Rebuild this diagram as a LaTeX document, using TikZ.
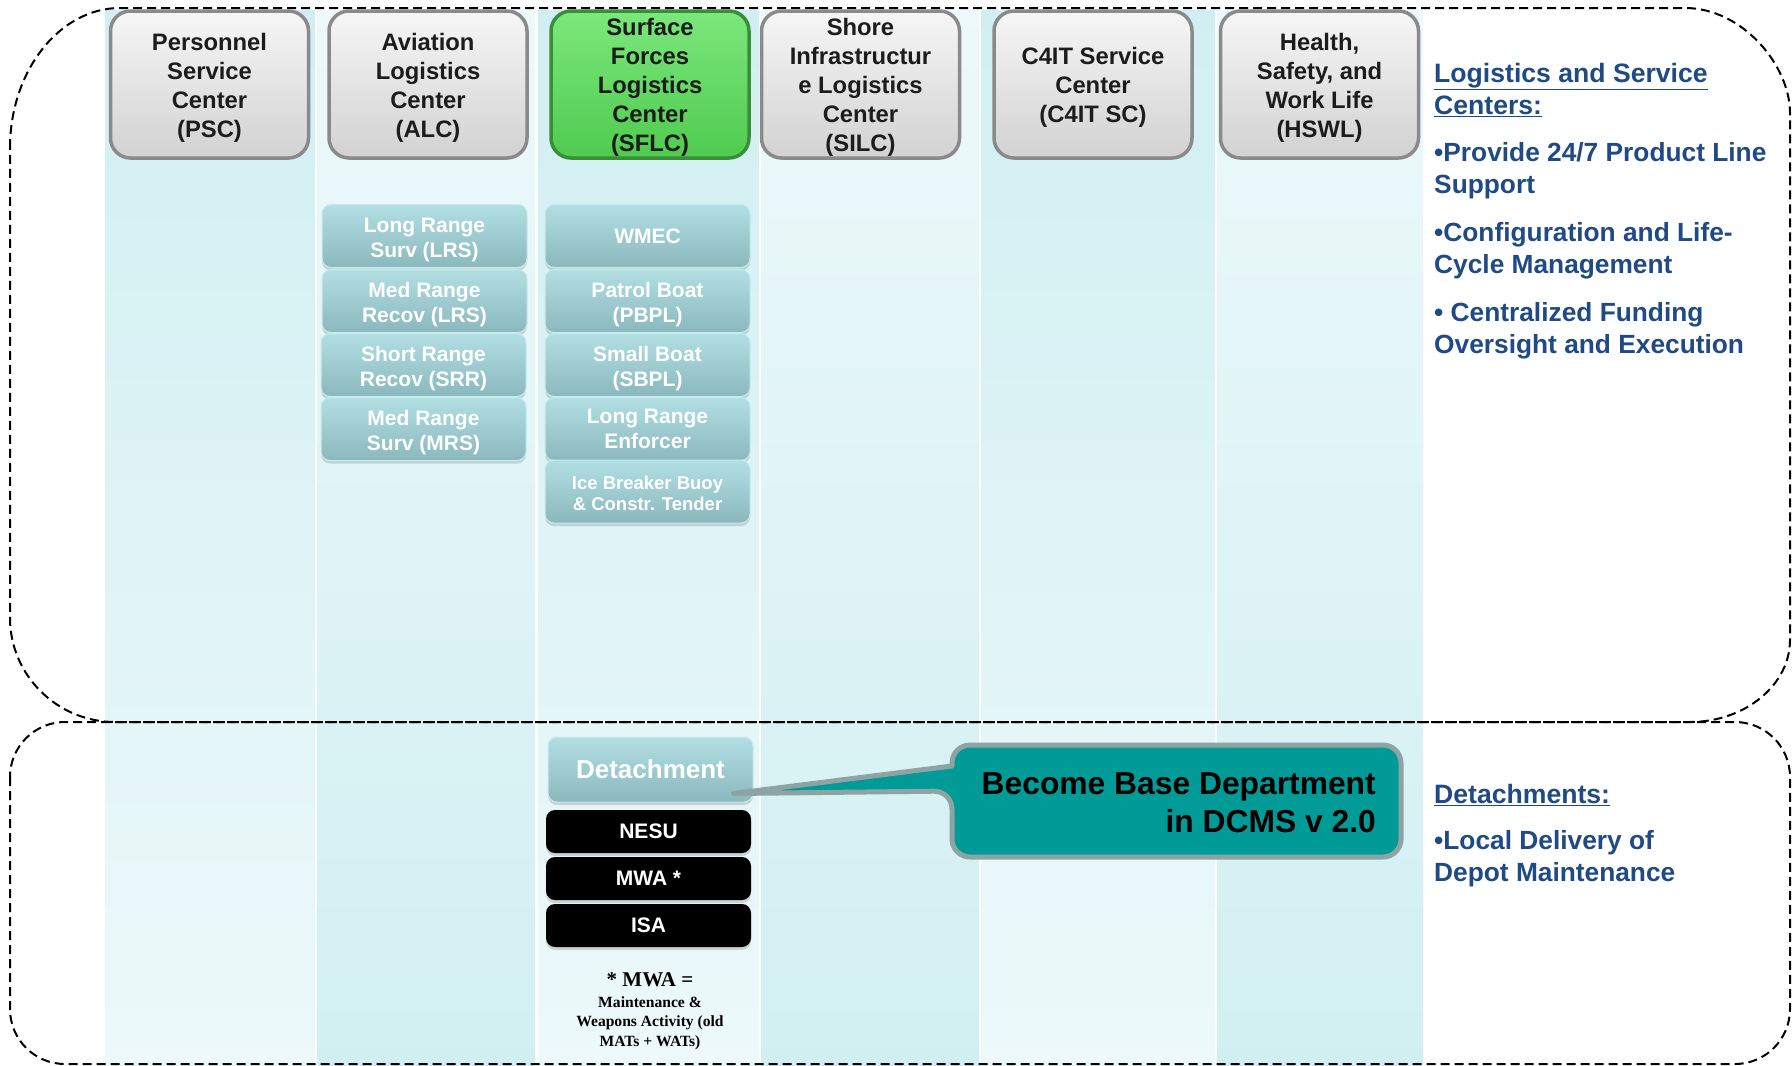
\documentclass[tikz,border=0pt]{standalone}
\usepackage{fontspec}
\setmainfont{Liberation Sans}
\newfontfamily\notefont{Liberation Serif}
\usetikzlibrary{shadows,calc}

\definecolor{colDark}{HTML}{D1EFF2}
\definecolor{colLight}{HTML}{EDF9FA}
\definecolor{hdrTop}{HTML}{F6F6F6}
\definecolor{hdrBot}{HTML}{D2D2D2}
\definecolor{hdrEdge}{HTML}{8A8A8A}
\definecolor{hdrText}{HTML}{1C1C1C}
\definecolor{grnTop}{HTML}{7CE77C}
\definecolor{grnBot}{HTML}{4FCB4F}
\definecolor{grnEdge}{HTML}{3A8E3A}
\definecolor{subTop}{HTML}{B1DFE4}
\definecolor{subBot}{HTML}{8BB8BC}
\definecolor{subEdge}{HTML}{C8EBEE}
\definecolor{calloutFill}{HTML}{009A97}
\definecolor{calloutEdge}{HTML}{8EA3A3}
\definecolor{sideBlue}{HTML}{1F4A86}

% struts that lower multi-line labels a little inside their boxes
\newcommand{\hdrstrut}{\rule{0pt}{23pt}}
\newcommand{\substrut}{\rule{0pt}{22pt}}

\begin{document}
\begin{tikzpicture}[x=1pt,y=-1pt,
  hdrbox/.style={draw=hdrEdge, line width=3.5pt, rounded corners=20pt,
    top color=hdrTop, bottom color=hdrBot, minimum width=198pt, minimum height=147pt,
    inner sep=0pt, align=center, text=hdrText,
    font=\fontsize{23.8}{29}\selectfont\bfseries},
  greenbox/.style={hdrbox, draw=grnEdge, top color=grnTop, bottom color=grnBot},
  subbox/.style={rounded corners=9pt, top color=subTop, bottom color=subBot,
    draw=subEdge, line width=1pt, minimum width=205pt, minimum height=63pt,
    inner sep=0pt, align=center, text=white,
    font=\fontsize{21}{25}\selectfont\bfseries,
    drop shadow={shadow xshift=0pt, shadow yshift=-3pt, opacity=0.3}},
  blackbox/.style={rounded corners=9pt, fill=black, minimum width=205pt,
    minimum height=43pt, inner sep=0pt, text=white,
    font=\fontsize{21}{25}\selectfont\bfseries,
    drop shadow={shadow xshift=0pt, shadow yshift=-3pt, opacity=0.3}},
  sidetext/.style={text=sideBlue, inner sep=0pt, anchor=west, align=left,
    font=\fontsize{26.3}{32}\selectfont\bfseries},
  sidehead/.style={sidetext, font=\fontsize{26.6}{32}\selectfont\bfseries},
  groupline/.style={draw=black, line width=2pt, dash pattern=on 9pt off 5pt}
]
\useasboundingbox (0,0) rectangle (1792,1066);
\fill[white] (0,0) rectangle (1792,1066);

% column bands, alternating gradient direction
\foreach \xa/\xb/\tc/\bc in {105/315/colDark/colLight, 317/535/colLight/colDark,
    538/759/colDark/colLight, 761/979/colLight/colDark,
    981/1215/colDark/colLight, 1217/1423/colLight/colDark}
  \shade[top color=\tc, bottom color=\bc] (\xa,10) rectangle (\xb,1066);

% dashed group outlines
\draw[groupline] (10,148) .. controls (10,71) and (59.5,8) .. (120,8)
  -- (1685,8) .. controls (1742.75,8) and (1790,65.75) .. (1790,113)
  -- (1790,640) .. controls (1790,685) and (1745,722) .. (1690,722)
  -- (115,722) .. controls (57.25,722) and (10,675.2) .. (10,618) -- cycle;
\draw[groupline, rounded corners=55pt] (10,722) rectangle (1790,1064);

% centre headers
\node[hdrbox] (psc) at (209.5,84.5) {\hdrstrut Personnel\\Service\\Center\\(PSC)};
\node[hdrbox] (alc) at (428,84.5) {\hdrstrut Aviation\\Logistics\\Center\\(ALC)};
\node[greenbox] (sflc) at (650,84.5) {\hdrstrut Surface\\Forces\\Logistics\\Center\\(SFLC)};
\node[hdrbox] (silc) at (860.5,84.5) {\hdrstrut Shore\\Infrastructur\\e Logistics\\Center\\(SILC)};
\node[hdrbox] (c4it) at (1093,84.5) {\hdrstrut C4IT Service\\Center\\(C4IT SC)};
\node[hdrbox] (hswl) at (1319.5,84.5) {\hdrstrut Health,\\Safety, and\\Work Life\\(HSWL)};

% aviation product lines
\node[subbox] (lrs) at (424.5,236) {\substrut Long Range\\Surv (LRS)};
\node[subbox] (mrr) at (424.5,301) {\substrut Med Range\\Recov (LRS)};
\node[subbox] (srr) at (423.5,365) {\substrut Short Range\\Recov (SRR)};
\node[subbox] (mrs) at (423.5,429) {\substrut Med Range\\Surv (MRS)};

% surface product lines
\node[subbox] (wmec) at (647.5,236) {WMEC};
\node[subbox] (pbpl) at (647.5,301) {\substrut Patrol Boat\\(PBPL)};
\node[subbox] (sbpl) at (647.5,365) {\substrut Small Boat\\(SBPL)};
\node[subbox] (lre) at (647.5,429) {Long Range\\Enforcer};
\node[subbox, font=\fontsize{18.5}{21.5}\selectfont\bfseries] (ibct) at (647.5,491.5)
  {\rule{0pt}{17pt}Ice Breaker Buoy\\\& Constr. Tender};

% detachment level
\node[subbox, minimum height=65pt, font=\fontsize{26}{30}\selectfont\bfseries] (det)
  at (650.5,769.5) {Detachment};
\node[blackbox] (nesu) at (648.5,831.5) {NESU};
\node[blackbox] (mwa) at (648.5,878.5) {MWA *};
\node[blackbox] (isa) at (648.5,925.5) {ISA};

\node[inner sep=0pt, font=\notefont\bfseries\fontsize{21}{24}\selectfont] (mwahead)
  at (650,980) {* MWA =};
\node[inner sep=0pt, align=center, font=\notefont\bfseries\fontsize{15.6}{19.5}\selectfont]
  (mwabody) at (650,1023) {Maintenance \&\\Weapons Activity (old\\MATs + WATs)};

% callout pointing at the detachment box
\coordinate (tip) at ($(det.south east)+(-20,-9)$);
\filldraw[fill=calloutFill, draw=calloutEdge, line width=5pt, line join=round]
  (952,766) [rounded corners=18pt] -- (952,745) -- (1401,745) -- (1401,857)
  -- (952,857) -- (952,791) [sharp corners] -- (tip) -- cycle;
\node[inner sep=0pt, anchor=east, align=right, text=black,
  font=\fontsize{31.8}{38}\selectfont\bfseries] (callout) at (1376,803)
  {Become Base Department\\in DCMS v 2.0};

% side notes
\node[sidehead] (lschead) at (1434,90)
  {\underline{Logistics and Service}\\\underline{Centers:}};
\node[sidetext] (pt1) at (1434,171) {•Provide 24/7 Product Line\\Support};
\node[sidetext] (pt2) at (1434,251) {•Configuration and Life-\\Cycle Management};
\node[sidetext] (pt3) at (1434,331) {• Centralized Funding\\Oversight and Execution};
\node[sidehead] (dethead) at (1434,795) {\underline{Detachments:}};
\node[sidetext] (pt4) at (1434,859) {•Local Delivery of\\Depot Maintenance};
\end{tikzpicture}
\end{document}
